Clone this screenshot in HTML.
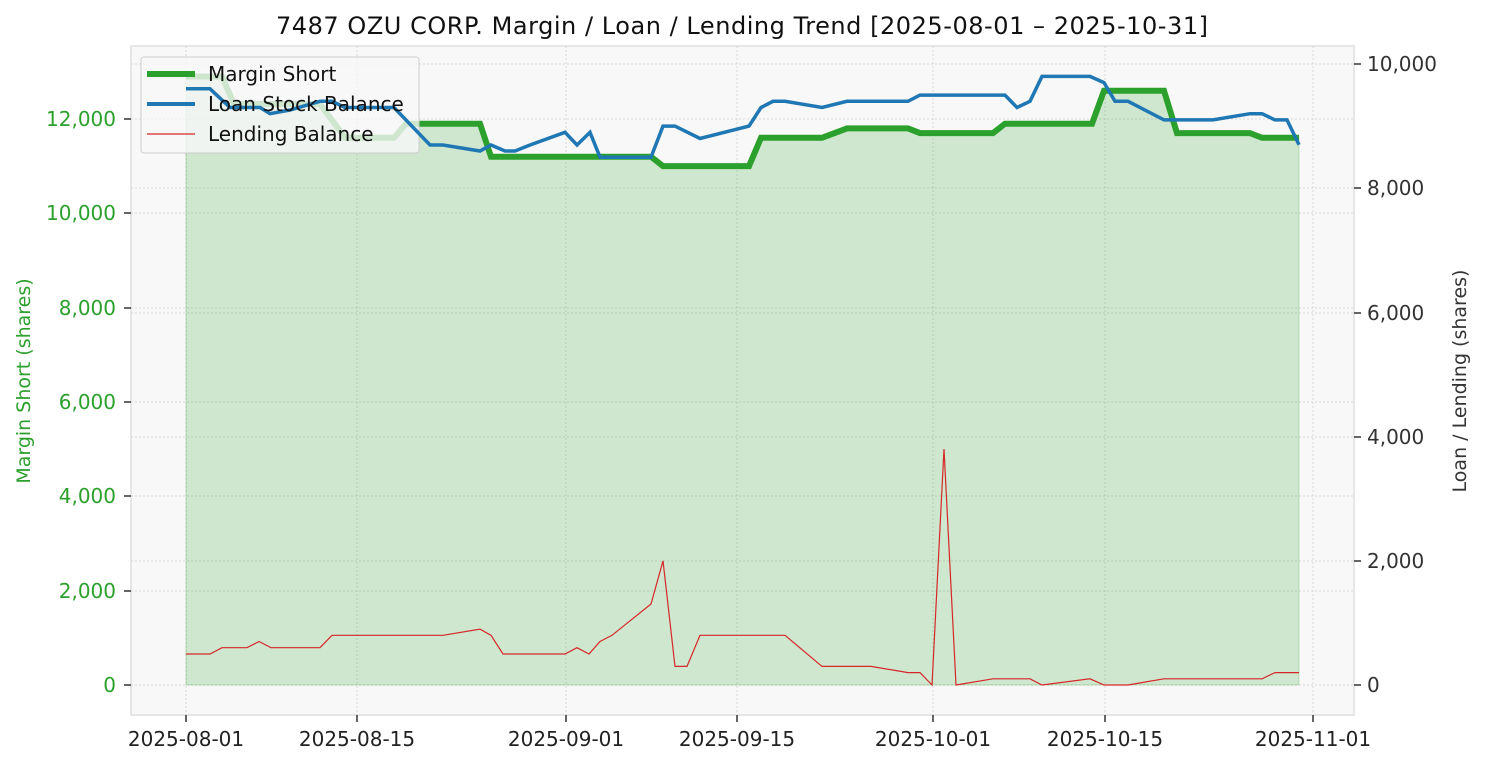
<!DOCTYPE html>
<html><head><meta charset="utf-8"><style>
body{margin:0;background:#fff;}
svg{display:block;font-family:"DejaVu Sans","Liberation Sans",sans-serif;}
</style></head><body>
<svg width="1485" height="765" xmlns="http://www.w3.org/2000/svg">
<rect x="131" y="46" width="1223" height="669" fill="#f8f8f8" stroke="#e6e6e6" stroke-width="2"/>
<g stroke="#d8d8d8" stroke-dasharray="2,2" stroke-width="1">
<line x1="131" x2="1354" y1="685" y2="685"/><line x1="131" x2="1354" y1="591" y2="591"/><line x1="131" x2="1354" y1="496" y2="496"/><line x1="131" x2="1354" y1="402" y2="402"/><line x1="131" x2="1354" y1="308" y2="308"/><line x1="131" x2="1354" y1="213" y2="213"/><line x1="131" x2="1354" y1="119" y2="119"/>
<line x1="131" x2="1354" y1="561" y2="561"/><line x1="131" x2="1354" y1="437" y2="437"/><line x1="131" x2="1354" y1="313" y2="313"/><line x1="131" x2="1354" y1="188" y2="188"/><line x1="131" x2="1354" y1="64" y2="64"/>
<line y1="46" y2="715" x1="186" x2="186"/><line y1="46" y2="715" x1="357" x2="357"/><line y1="46" y2="715" x1="566" x2="566"/><line y1="46" y2="715" x1="737" x2="737"/><line y1="46" y2="715" x1="933" x2="933"/><line y1="46" y2="715" x1="1105" x2="1105"/><line y1="46" y2="715" x1="1313" x2="1313"/>
</g>
<polygon fill="#2ca02c" fill-opacity="0.2" stroke="#2ca02c" stroke-opacity="0.25" points="186,685 186,76.5 222,76.5 234,104 320,104 345,137.8 394,137.8 406,123.7 480,123.7 491,156.7 651,156.7 663,166.1 749,166.1 761,137.8 822,137.8 847,128.4 908,128.4 920,133.1 993,133.1 1005,123.7 1092,123.7 1104,90.7 1164,90.7 1177,133.1 1250,133.1 1262,137.8 1299,137.8 1299,685"/>
<polyline fill="none" stroke="#2ca02c" stroke-width="6" points="186,76.5 222,76.5 234,104 320,104 345,137.8 394,137.8 406,123.7 480,123.7 491,156.7 651,156.7 663,166.1 749,166.1 761,137.8 822,137.8 847,128.4 908,128.4 920,133.1 993,133.1 1005,123.7 1092,123.7 1104,90.7 1164,90.7 1177,133.1 1250,133.1 1262,137.8 1299,137.8"/>
<rect x="141" y="57" width="278" height="96" rx="3" fill="#f8f8f8" fill-opacity="0.8" stroke="#cccccc"/>
<polyline fill="none" stroke="#1f77b4" stroke-width="3.5" points="186,88.8 210,88.8 230,107.5 260,107.5 270,113.7 290,110 320,101.3 332,101.3 345,107.5 394,107.5 430,145 443,145 480,151 491,145 505,151 515,151 530,145 565,132.3 577,145 590,132.3 600,157.2 651,157.2 663,126.1 675,126.1 700,138.5 749,126.1 761,107.5 773,101.3 785,101.3 822,107.5 847,101.3 908,101.3 920,95.1 1005,95.1 1017,107.5 1030,101.3 1042,76.4 1090,76.4 1104,82.6 1115,101.3 1128,101.3 1164,119.9 1213,119.9 1250,113.7 1262,113.7 1275,119.9 1287,119.9 1299,144.7"/>
<polyline fill="none" stroke="#d62728" stroke-width="1.2" points="186,654 210,654 222,647.7 247,647.7 259,641.5 271,647.7 320,647.7 332,635.3 443,635.3 480,629.1 491,635.3 503,654 565,654 577,647.7 589,654 600,641.5 612,635.3 651,604 663,560.8 675,666.4 687,666.4 700,635.3 785,635.3 822,666.4 871,666.4 908,672.6 920,672.6 932,685 944,449 956,685 993,678.8 1030,678.8 1042,685 1090,678.8 1104,685 1128,685 1164,678.8 1262,678.8 1275,672.6 1299,672.6"/>
<g font-size="20" fill="#2ca02c" text-anchor="end">
<text x="116" y="692">0</text><text x="116" y="598">2,000</text><text x="116" y="503">4,000</text><text x="116" y="409">6,000</text><text x="116" y="315">8,000</text><text x="116" y="220">10,000</text><text x="116" y="126">12,000</text>
</g>
<g stroke="#333" stroke-width="1.5"><line x1="124" x2="131" y1="685" y2="685"/><line x1="124" x2="131" y1="591" y2="591"/><line x1="124" x2="131" y1="496" y2="496"/><line x1="124" x2="131" y1="402" y2="402"/><line x1="124" x2="131" y1="308" y2="308"/><line x1="124" x2="131" y1="213" y2="213"/><line x1="124" x2="131" y1="119" y2="119"/>
<line x1="1354" x2="1361" y1="685" y2="685"/><line x1="1354" x2="1361" y1="561" y2="561"/><line x1="1354" x2="1361" y1="437" y2="437"/><line x1="1354" x2="1361" y1="313" y2="313"/><line x1="1354" x2="1361" y1="188" y2="188"/><line x1="1354" x2="1361" y1="64" y2="64"/>
<line y1="715" y2="722" x1="186" x2="186"/><line y1="715" y2="722" x1="357" x2="357"/><line y1="715" y2="722" x1="566" x2="566"/><line y1="715" y2="722" x1="737" x2="737"/><line y1="715" y2="722" x1="933" x2="933"/><line y1="715" y2="722" x1="1105" x2="1105"/><line y1="715" y2="722" x1="1313" x2="1313"/></g>
<g font-size="20" fill="#333" text-anchor="start">
<text x="1367" y="692">0</text><text x="1367" y="568">2,000</text><text x="1367" y="444">4,000</text><text x="1367" y="320">6,000</text><text x="1367" y="195">8,000</text><text x="1367" y="71">10,000</text>
</g>
<g font-size="20" fill="#222" text-anchor="middle">
<text x="186" y="746">2025-08-01</text><text x="357" y="746">2025-08-15</text><text x="566" y="746">2025-09-01</text><text x="737" y="746">2025-09-15</text><text x="933" y="746">2025-10-01</text><text x="1105" y="746">2025-10-15</text><text x="1313" y="746">2025-11-01</text>
</g>
<text x="742" y="34" font-size="24" text-anchor="middle" fill="#111" textLength="932">7487 OZU CORP. Margin / Loan / Lending Trend [2025-08-01 – 2025-10-31]</text>
<text transform="translate(30,381) rotate(-90)" font-size="19" fill="#2ca02c" text-anchor="middle">Margin Short (shares)</text>
<text transform="translate(1466,381) rotate(-90)" font-size="19" fill="#333" text-anchor="middle">Loan / Lending (shares)</text>
<line x1="147" x2="195" y1="74" y2="74" stroke="#2ca02c" stroke-width="6"/>
<line x1="147" x2="195" y1="104" y2="104" stroke="#1f77b4" stroke-width="4"/>
<line x1="147" x2="195" y1="134" y2="134" stroke="#d62728" stroke-width="1.2"/>
<g font-size="20" fill="#111"><text x="208" y="81">Margin Short</text><text x="208" y="111">Loan Stock Balance</text><text x="208" y="141">Lending Balance</text></g>
</svg>
</body></html>
